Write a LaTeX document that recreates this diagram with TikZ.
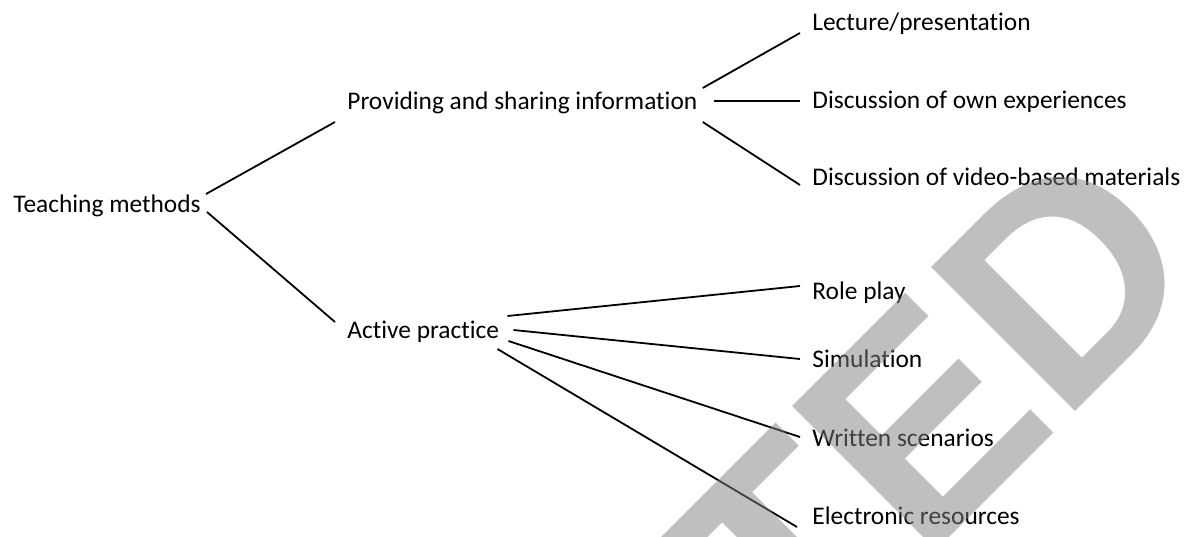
\documentclass[tikz,border=0pt]{standalone}
\usepackage{fontspec}
\setmainfont{Carlito}[Ligatures=CommonOff]
\newfontfamily\wmfont{Liberation Sans}
\tikzset{
  lbl/.style={anchor=base west,inner sep=0pt,text height=9pt,text depth=3pt,font=\fontsize{12.7}{15}\selectfont},
  link/.style={line width=0.9pt},
  wmark/.style={anchor=base west,rotate=45,inner sep=0pt,text=gray,text opacity=0.5,font=\wmfont\fontsize{148}{148}\selectfont\bfseries}
}
\begin{document}
\begin{tikzpicture}[x=0.5pt,y=-0.5pt]
\useasboundingbox (0,0) rectangle (1194,536);
\node[lbl](TM) at (13,212){Teaching methods};
\node[lbl](PSI) at (347,109){Providing and sharing information};
\node[lbl](AP) at (347,338){Active practice};
\node[lbl](LP) at (812,30){Lecture/presentation};
\node[lbl](DOE) at (812,108){Discussion of own experiences};
\node[lbl](DVM) at (812,185){Discussion of video-based materials};
\node[lbl](RP) at (812,299){Role play};
\node[lbl](SIM) at (812,367){Simulation};
\node[lbl](WS) at (812,446){Written scenarios};
\node[lbl](ER) at (812,524){Electronic resources};
% first level
\draw[link] ([xshift=2.5pt,yshift=6pt]TM.east) -- ([xshift=-6pt,yshift=-9.5pt]PSI.west);
\draw[link] ([xshift=3pt,yshift=-3pt]TM.east) -- ([xshift=-6pt,yshift=5pt]AP.west);
% providing and sharing
\draw[link] ([xshift=2.5pt,yshift=7.5pt]PSI.east) -- ([xshift=-6pt,yshift=-4.5pt]LP.west);
\draw[link] ([xshift=8pt,yshift=1pt]PSI.east) -- ([xshift=-6pt,yshift=0.5pt]DOE.west);
\draw[link] ([xshift=2.5pt,yshift=-9.5pt]PSI.east) -- ([xshift=-6pt,yshift=-3pt]DVM.west);
% active practice
\draw[link] ([xshift=4pt,yshift=8pt]AP.east) -- ([xshift=-6pt,yshift=3.5pt]RP.west);
\draw[link] ([xshift=7pt,yshift=1pt]AP.east) -- ([xshift=-6pt,yshift=1pt]SIM.west);
\draw[link] ([xshift=4.5pt,yshift=-4.5pt]AP.east) -- ([xshift=-6pt,yshift=1.5pt]WS.west);
\draw[link] ([xshift=-1pt,yshift=-8.5pt]AP.east) -- ([xshift=-7.5pt,yshift=-4.5pt]ER.west);
% watermark
\clip (0,0) rectangle (1194,536);
\node[wmark](WM) at (794,693){TED};
\end{tikzpicture}
\end{document}
